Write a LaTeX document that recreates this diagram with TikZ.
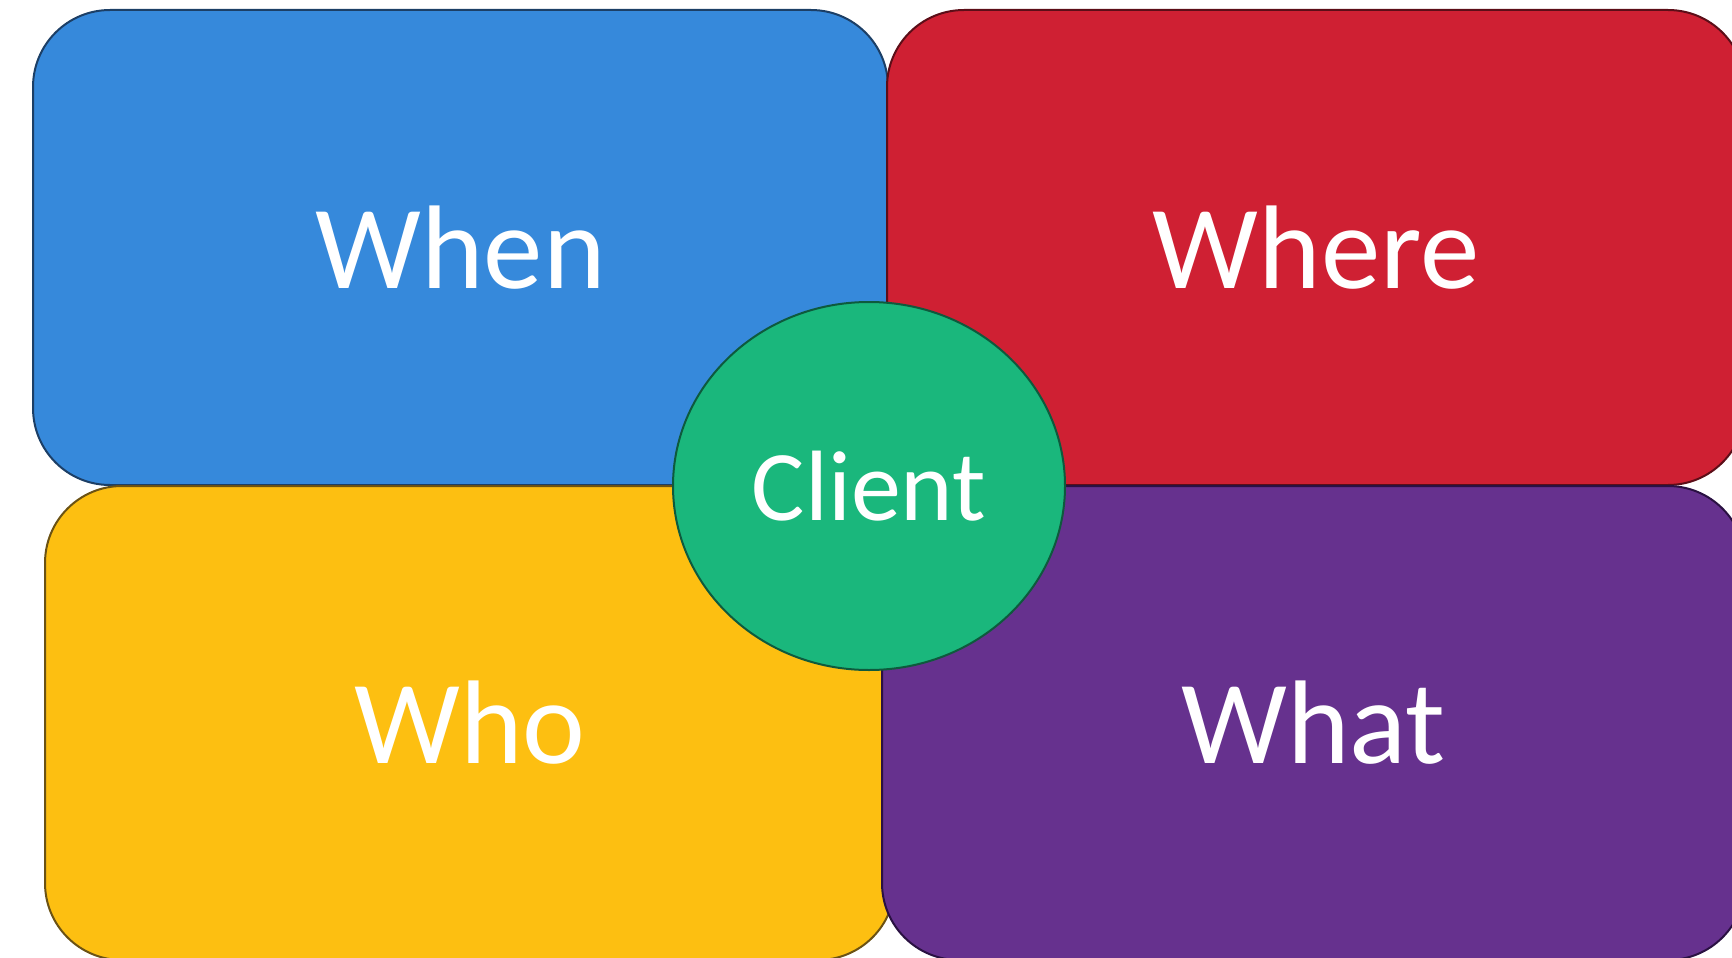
\documentclass[tikz,border=0pt]{standalone}
\usepackage{fontspec}
\setmainfont{Carlito}
\usepackage{tikz}
\usetikzlibrary{shapes.geometric}
\definecolor{QuadBlue}{HTML}{3689DB}
\definecolor{QuadBlueEdge}{HTML}{1C3F66}
\definecolor{QuadRed}{HTML}{CF2033}
\definecolor{QuadRedEdge}{HTML}{5C0E18}
\definecolor{QuadYellow}{HTML}{FDBF11}
\definecolor{QuadYellowEdge}{HTML}{6B5214}
\definecolor{QuadPurple}{HTML}{66318E}
\definecolor{QuadPurpleEdge}{HTML}{2A1142}
\definecolor{ClientGreen}{HTML}{1AB77C}
\definecolor{ClientGreenEdge}{HTML}{0E5A3D}

\begin{document}
\begin{tikzpicture}[x=1pt,y=-1pt,
    quad/.style={draw, line width=2pt, rounded corners=77pt, inner sep=0pt,
      outer sep=0pt, text=white, font=\fontsize{119}{140}\selectfont},
    hub/.style={draw, line width=2pt, ellipse, inner sep=0pt, outer sep=0pt,
      minimum width=392pt, minimum height=368pt, text=white,
      font=\fontsize{100}{120}\selectfont}]
    \useasboundingbox (0,0) rectangle (1732,958);
    % four quarters
    \node[quad, fill=QuadBlue, draw=QuadBlueEdge, minimum width=855pt, minimum height=475pt]
      (when) at (460.5,247.5) {When};
    \node[quad, fill=QuadRed, draw=QuadRedEdge, minimum width=858pt, minimum height=475pt]
      (where) at (1316,247.5) {Where};
    \node[quad, fill=QuadYellow, draw=QuadYellowEdge, minimum width=850pt, minimum height=474pt]
      (who) at (470,723) {Who};
    \node[quad, fill=QuadPurple, draw=QuadPurpleEdge, minimum width=863pt, minimum height=474pt]
      (what) at (1313.5,723) {What};
    % centre
    \node[hub, fill=ClientGreen, draw=ClientGreenEdge] (client) at (869,486) {Client};
\end{tikzpicture}
\end{document}
